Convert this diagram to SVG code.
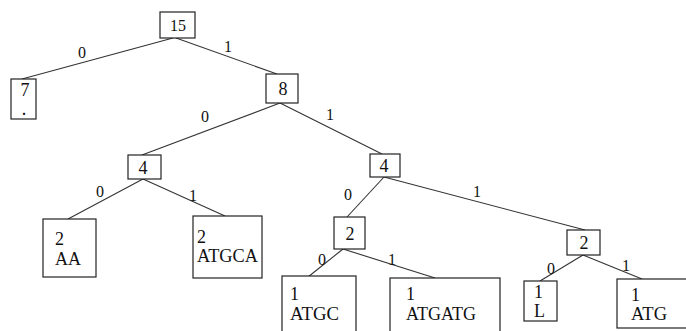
<svg xmlns="http://www.w3.org/2000/svg" width="686" height="331" viewBox="0 0 686 331">
<style>
rect{fill:#fff;stroke:#222;stroke-width:1.2}
line{stroke:#333;stroke-width:1.1}
text{font-family:"Liberation Serif","Times New Roman",serif;font-size:18px;fill:#111}
.lbl{font-size:16px;text-anchor:middle}
.c{text-anchor:middle}
</style>
<rect x="0" y="0" width="686" height="331" style="fill:#fff;stroke:none"/>
<g id="connectors">
<line x1="173" y1="38" x2="22" y2="79"/>
<line x1="176" y1="38" x2="277" y2="74"/>
<line x1="280" y1="103" x2="142" y2="155"/>
<line x1="280" y1="103" x2="382" y2="154"/>
<line x1="143" y1="179" x2="68" y2="219"/>
<line x1="143" y1="179" x2="225" y2="216"/>
<line x1="384" y1="177" x2="347" y2="217"/>
<line x1="384" y1="177" x2="585" y2="230"/>
<line x1="343" y1="249" x2="308" y2="277"/>
<line x1="343" y1="249" x2="435" y2="278"/>
<line x1="583" y1="255" x2="540" y2="281"/>
<line x1="583" y1="255" x2="642" y2="279"/>
<text class="lbl" x="82" y="58">0</text>
<text class="lbl" x="228" y="52">1</text>
<text class="lbl" x="205" y="122">0</text>
<text class="lbl" x="330" y="120">1</text>
<text class="lbl" x="100" y="197">0</text>
<text class="lbl" x="193" y="201">1</text>
<text class="lbl" x="348" y="200">0</text>
<text class="lbl" x="477" y="197">1</text>
<text class="lbl" x="322" y="265">0</text>
<text class="lbl" x="392" y="265">1</text>
<text class="lbl" x="551" y="274">0</text>
<text class="lbl" x="626" y="271">1</text>
</g>
<g id="n15"><rect x="160" y="12" width="35" height="26"/><text class="c" x="178" y="31" style="font-size:16px">15</text></g>
<g id="n7"><rect x="11" y="79" width="25" height="40"/><text class="c" x="25" y="96">7</text><text class="c" x="24" y="115" style="font-weight:bold;font-size:14px">.</text></g>
<g id="n8"><rect x="266" y="74" width="32" height="29"/><text class="c" x="283" y="95">8</text></g>
<g id="n4a"><rect x="128" y="155" width="33" height="24"/><text class="c" x="143" y="174">4</text></g>
<g id="n4b"><rect x="370" y="154" width="30" height="23"/><text class="c" x="384" y="172">4</text></g>
<g id="nAA"><rect x="43" y="219" width="53" height="58"/><text x="55" y="245">2</text><text x="55" y="265" textLength="26" lengthAdjust="spacingAndGlyphs">AA</text></g>
<g id="nATGCA"><rect x="193" y="216" width="69" height="62"/><text x="197" y="243">2</text><text x="197" y="262" textLength="61" lengthAdjust="spacingAndGlyphs">ATGCA</text></g>
<g id="n2a"><rect x="334" y="217" width="31" height="32"/><text class="c" x="350" y="240">2</text></g>
<g id="n2b"><rect x="567" y="230" width="33" height="25"/><text class="c" x="584" y="249">2</text></g>
<g id="nATGC"><rect x="282" y="276" width="74" height="60"/><text x="290" y="300">1</text><text x="290" y="320" textLength="49" lengthAdjust="spacingAndGlyphs">ATGC</text></g>
<g id="nATGATG"><rect x="390" y="278" width="110" height="60"/><text x="406" y="300">1</text><text x="406" y="320" textLength="70" lengthAdjust="spacingAndGlyphs">ATGATG</text></g>
<g id="nL"><rect x="524" y="281" width="33" height="40"/><text x="534" y="298">1</text><text x="534" y="317">L</text></g>
<g id="nATG"><rect x="617" y="279" width="80" height="49"/><text x="631" y="301">1</text><text x="631" y="320" textLength="36" lengthAdjust="spacingAndGlyphs">ATG</text></g>
</svg>
